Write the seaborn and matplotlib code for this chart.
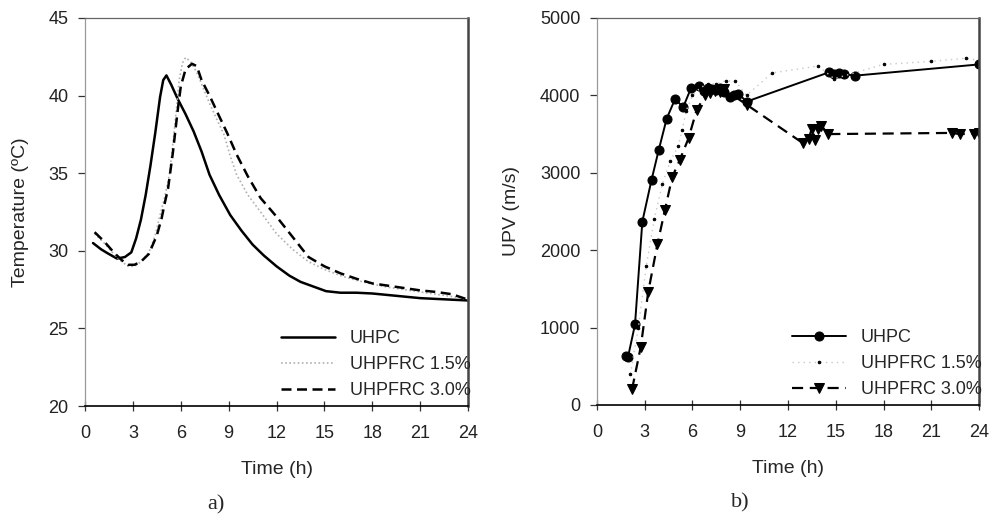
import matplotlib
matplotlib.use("Agg")
import matplotlib.pyplot as plt
import seaborn as sns
import pandas as pd

# ---- a) temperature curves ----
t_uhpc = [0.5, 1.0, 1.4, 2.0, 2.5, 2.9, 3.2, 3.5, 3.8, 4.1, 4.4, 4.7, 4.9, 5.1, 5.4, 5.8, 6.3, 6.8,
          7.3, 7.8, 8.4, 9.1, 9.8, 10.5, 11.2, 12.0, 12.8, 13.5, 14.3, 15.1, 16.0, 17.0, 18.0,
          19.0, 20.0, 21.0, 22.0, 23.0, 24.0]
temp_uhpc = [30.5, 30.1, 29.85, 29.5, 29.6, 29.9, 30.8, 32.0, 33.6, 35.5, 37.6, 39.9, 41.0, 41.3,
             40.7, 39.8, 38.8, 37.7, 36.4, 34.9, 33.6, 32.3, 31.3, 30.4, 29.7, 29.0, 28.4, 28.0,
             27.7, 27.4, 27.3, 27.3, 27.25, 27.15, 27.05, 26.95, 26.9, 26.85, 26.8]

t_f15 = [0.6, 1.2, 1.8, 2.3, 2.7, 3.1, 3.5, 4.0, 4.4, 4.7, 5.0, 5.3, 5.6, 5.9, 6.1, 6.3, 6.6, 7.0,
         7.4, 7.8, 8.2, 8.7, 9.1, 9.5, 10.2, 11.0, 12.0, 13.0, 14.0, 15.0, 16.0, 17.0, 18.0, 19.0,
         20.0, 21.0, 22.0, 23.0, 24.0]
temp_f15 = [31.1, 30.5, 29.8, 29.3, 29.0, 29.0, 29.3, 29.9, 31.0, 32.3, 33.5, 35.0, 37.8, 41.0,
            42.1, 42.45, 42.2, 41.5, 40.5, 39.5, 38.6, 37.5, 36.1, 34.9, 33.6, 32.5, 31.1, 30.1,
            29.3, 28.8, 28.4, 28.1, 27.85, 27.65, 27.5, 27.35, 27.2, 27.05, 26.85]

t_f30 = [0.6, 1.2, 1.8, 2.3, 2.7, 3.1, 3.5, 4.0, 4.5, 4.8, 5.0, 5.2, 5.5, 5.8, 6.0, 6.3, 6.7, 7.0,
         7.3, 7.8, 8.3, 8.9, 9.5, 10.2, 11.0, 12.0, 13.0, 14.0, 15.0, 16.0, 17.0, 18.0, 19.0,
         20.0, 21.0, 22.0, 23.0, 24.0]
temp_f30 = [31.2, 30.6, 29.9, 29.4, 29.1, 29.1, 29.3, 29.8, 31.0, 32.1, 33.1, 34.0, 36.3, 39.0,
            40.6, 41.7, 42.05, 41.9, 41.0, 40.0, 38.9, 37.6, 36.2, 34.8, 33.4, 32.2, 30.9, 29.6,
            29.0, 28.55, 28.2, 27.9, 27.75, 27.6, 27.45, 27.35, 27.2, 26.85]

# ---- b) UPV ----
tv_uhpc = [1.8, 1.95, 2.39, 2.85, 3.43, 3.88, 4.38, 4.9, 5.42, 5.9, 6.4, 6.75, 7.0, 7.25, 7.5,
           7.75, 8.0, 8.35, 8.6, 8.88, 9.4, 14.6, 14.9, 15.2, 15.5, 16.2, 24.0]
upv_uhpc = [630, 620, 1040, 2370, 2910, 3295, 3700, 3950, 3850, 4090, 4125, 4060, 4100, 4080,
            4070, 4100, 4050, 3985, 4000, 4020, 3920, 4300, 4280, 4285, 4275, 4255, 4400]

tv_f15 = [2.1, 2.6, 3.1, 3.6, 4.1, 4.6, 5.1, 5.35, 5.6, 6.0, 6.5, 7.0, 7.5, 8.1, 8.7, 9.4, 11.0,
          13.9, 14.9, 18.0, 21.0, 23.2, 24.0]
upv_f15 = [400, 1000, 1800, 2400, 2850, 3150, 3340, 3550, 3800, 4000, 4100, 4150, 4150, 4190,
           4180, 4000, 4290, 4380, 4215, 4400, 4440, 4480, 4450]

tv_f30 = [2.2, 2.75, 3.22, 3.8, 4.27, 4.72, 5.21, 5.75, 6.26, 6.8, 7.1, 7.4, 7.7, 8.0, 9.4, 12.96,
          13.3, 13.5, 13.7, 13.9, 14.1, 14.5, 22.3, 22.8, 23.7, 24.0]
upv_f30 = [200, 750, 1460, 2080, 2520, 2940, 3170, 3445, 3810, 4000, 4030, 4060, 4040, 4080, 3880,
           3380, 3440, 3570, 3420, 3560, 3610, 3500, 3515, 3500, 3505, 3520]

sns.set_style("ticks")
plt.rcParams["font.family"] = ["Liberation Sans", "DejaVu Sans"]

fig = plt.figure(figsize=(9.9, 5.2), dpi=100)
ax1 = fig.add_axes([0.0859, 0.2192, 0.3869, 0.7462])
ax2 = fig.add_axes([0.603, 0.2212, 0.3859, 0.7442])

df_a = pd.DataFrame({"t": t_uhpc, "T": temp_uhpc})
sns.lineplot(data=df_a, x="t", y="T", ax=ax1, color="black", lw=1.8, label="UHPC",
             estimator=None, sort=False)
sns.lineplot(x=t_f15, y=temp_f15, ax=ax1, color="#b0b0b0", lw=1.2, linestyle=(0, (1, 1.5)),
             label="UHPFRC 1.5%", estimator=None, sort=False)
sns.lineplot(x=t_f30, y=temp_f30, ax=ax1, color="black", lw=1.8, linestyle=(0, (4, 2.2)),
             label="UHPFRC 3.0%", estimator=None, sort=False)

sns.lineplot(x=tv_uhpc, y=upv_uhpc, ax=ax2, color="black", lw=1.4, marker="o", markersize=6.5,
             markeredgecolor="black", label="UHPC", estimator=None, sort=False)
sns.lineplot(x=tv_f15, y=upv_f15, ax=ax2, color="#c8c8c8", lw=1.0, linestyle=(0, (1, 3)),
             marker="o", markersize=1.8, markerfacecolor="black", markeredgecolor="black",
             label="UHPFRC 1.5%", estimator=None, sort=False)
sns.lineplot(x=tv_f30, y=upv_f30, ax=ax2, color="black", lw=1.6, linestyle=(0, (5, 3)),
             marker="v", markersize=6.5, markeredgecolor="black", label="UHPFRC 3.0%",
             estimator=None, sort=False)

ax1.set_xlim(0, 24)
ax1.set_ylim(20, 45)
ax1.set_yticks([20, 25, 30, 35, 40, 45])
ax1.set_ylabel("Temperature (ºC)", fontsize=14, labelpad=14)
ax2.set_xlim(0, 24)
ax2.set_ylim(0, 5000)
ax2.set_yticks([0, 1000, 2000, 3000, 4000, 5000])
ax2.set_ylabel("UPV (m/s)", fontsize=14, labelpad=14)

for ax in (ax1, ax2):
    ax.set_xticks(range(0, 25, 3))
    ax.set_xlabel("Time (h)", fontsize=14, labelpad=14)
    ax.tick_params(axis="both", labelsize=13, colors="#333333", labelcolor="#222222",
                   length=5, width=0.9, pad=7)
    ax.tick_params(axis="x", direction="inout", length=7, pad=10)
    ax.spines["left"].set_color("#9a9a9a")
    ax.spines["top"].set_color("#666666")
    ax.spines["right"].set_visible(True)
    ax.spines["top"].set_visible(True)
    ax.spines["right"].set_color("#444444")
    ax.spines["right"].set_linewidth(1.8)
    ax.spines["bottom"].set_color("black")
    ax.spines["bottom"].set_linewidth(1.2)
    for sp in ("left", "top"):
        ax.spines[sp].set_linewidth(0.9)
    ax.legend(frameon=False, loc="lower right", bbox_to_anchor=(1.04, -0.015), fontsize=13,
              handlelength=3.0, handletextpad=0.8, labelspacing=0.5, borderaxespad=0.3)

fig.text(0.218, 0.02, "a)", fontsize=16, family=["Liberation Serif", "DejaVu Serif"],
         ha="center")
fig.text(0.748, 0.025, "b)", fontsize=16, family=["Liberation Serif", "DejaVu Serif"],
         ha="center")

fig.savefig("out.png", dpi=100)
